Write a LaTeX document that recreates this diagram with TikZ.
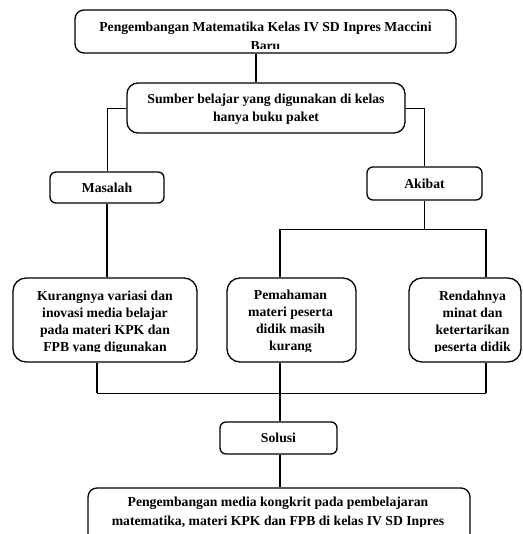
\documentclass[tikz,border=0pt]{standalone}
\usepackage{fontspec}
\setmainfont{Liberation Serif}
\begin{document}
\begin{tikzpicture}[x=1pt,y=-1pt,
  box/.style={draw=black, line width=1.3pt, rounded corners=#1, inner sep=0pt},
  box/.default=10pt,
  lbl/.style={font=\bfseries\fontsize{13.7}{#1}\selectfont, align=center, inner sep=0pt},
  lbl/.default=17,
  link/.style={line width=1.3pt},
  thin/.style={line width=0.9pt}]
\useasboundingbox (0,0) rectangle (522,534);

% boxes
\node[box=9pt, minimum width=381pt, minimum height=43pt] (top) at (265.5,31.5) {};
\node[box=11pt, minimum width=278pt, minimum height=50pt] (src) at (266,108) {};
\node[box=6pt, minimum width=114pt, minimum height=31pt] (masalah) at (107,187.5) {};
\node[box=6pt, minimum width=115pt, minimum height=33pt] (akibat) at (424.5,183.5) {};
\node[box=13pt, minimum width=184pt, minimum height=84pt] (kurang) at (105,320) {};
\node[box=13pt, minimum width=129pt, minimum height=84pt] (paham) at (291.5,320) {};
\node[box=13pt, minimum width=112pt, minimum height=84pt] (rendah) at (465,320) {};
\node[box=6pt, minimum width=117pt, minimum height=32pt] (solusi) at (278.5,438) {};
\node[box=9pt, minimum width=382pt, minimum height=64pt] (hasil) at (279,520) {};

% single-line labels
\node[lbl] at (masalah) {Masalah};
\node[lbl] at (akibat) {Akibat};
\node[lbl] at (solusi) {Solusi};
\node[lbl=18] at (266,109) {Sumber belajar yang digunakan di kelas\\hanya buku paket};

% labels cut off by the inner margin of their boxes
\begin{scope}
  \clip (75,10) rectangle (456,48.5);
  \node[lbl=19] at (265.5,36.5) {Pengembangan Matematika Kelas IV SD Inpres Maccini\\Baru};
\end{scope}
\begin{scope}
  \clip (13,278) rectangle (521,351.5);
  \node[lbl] at (105,322.5) {Kurangnya variasi dan\\inovasi media belajar\\pada materi KPK dan\\FPB yang digunakan};
  \node[lbl] at (290.5,322) {Pemahaman\\materi peserta\\didik masih\\kurang};
  \node[lbl] at (472.5,323) {Rendahnya\\minat dan\\ketertarikan\\peserta didik};
\end{scope}
\begin{scope}
  \clip (88,488) rectangle (470,526.5);
  \node[lbl=19] at (278,513) {Pengembangan media kongkrit pada pembelajaran\\matematika, materi KPK dan FPB di kelas IV SD Inpres};
\end{scope}

% junction points
\coordinate (ja) at (280,229);
\coordinate (jb) at (486,229);
\coordinate (b1) at (97,393);
\coordinate (b2) at (280,393);
\coordinate (b3) at (486,393);

% connectors
\draw[link] (top.south -| 256,0) -- (src.north -| 256,0);
\draw[thin] (src.west) -| (masalah.north);
\draw[thin] (src.east) -| (akibat.north);
\draw[link] (masalah.south) -- (masalah.south |- kurang.north);
\draw[link] (akibat.south) -- (akibat.south |- ja);
\draw[thin] (ja) -- (jb);
\draw[link] (ja) -- (ja |- paham.north);
\draw[link] (jb) -- (jb |- rendah.north);
\draw[link] (b1 |- kurang.south) -- (b1);
\draw[link] (b3 |- rendah.south) -- (b3);
\draw[thin] (b1) -- (b3);
\draw[link] (b2 |- paham.south) -- (b2 |- solusi.north);
\draw[link] (solusi.south -| b2) -- (b2 |- hasil.north);
\end{tikzpicture}
\end{document}
